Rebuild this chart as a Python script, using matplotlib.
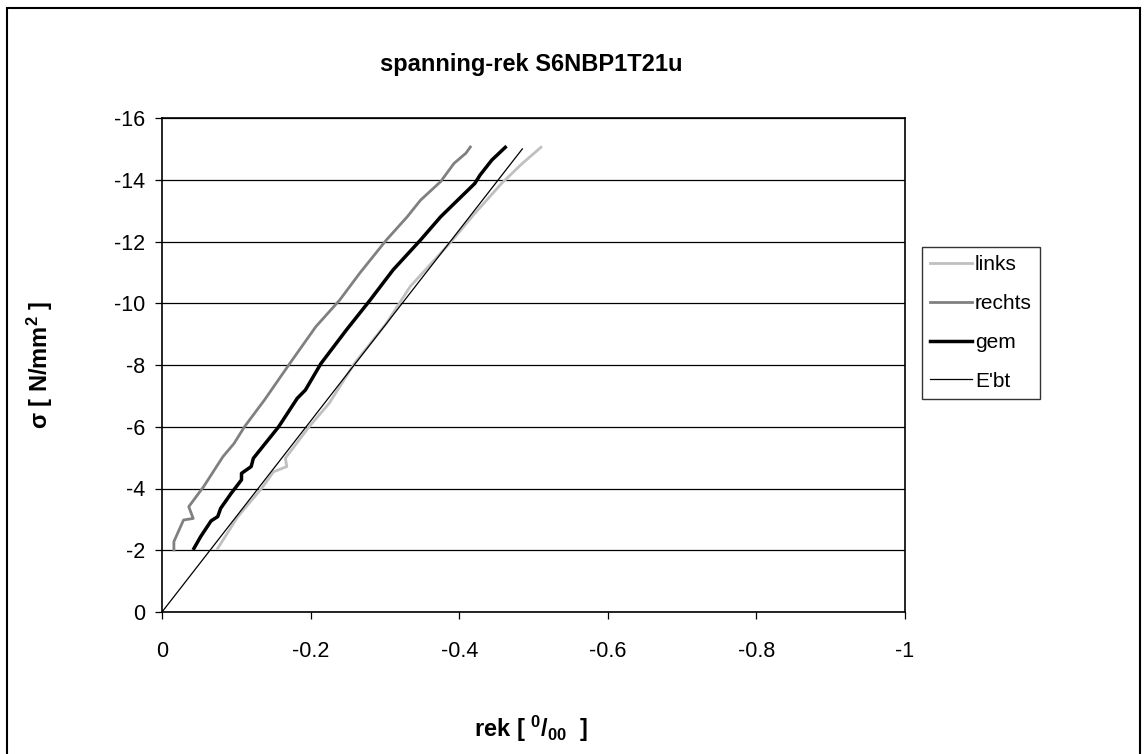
import numpy as np
import matplotlib
matplotlib.use('Agg')
import matplotlib.pyplot as plt
from matplotlib.patches import Rectangle

plt.rcParams['font.family'] = ['Liberation Sans', 'DejaVu Sans']
plt.rcParams['axes.unicode_minus'] = False
plt.rcParams['mathtext.fontset'] = 'custom'
plt.rcParams['mathtext.rm'] = 'Liberation Sans'
plt.rcParams['mathtext.bf'] = 'Liberation Sans:bold'

# data (strain in promille, stress in N/mm2)
links_x = [-0.075, -0.102, -0.134, -0.150, -0.168, -0.166, -0.198, -0.225, -0.259,
           -0.302, -0.334, -0.389, -0.421, -0.457, -0.485, -0.510]
links_y = [-2.06, -3.09, -4.00, -4.54, -4.71, -4.98, -6.00, -6.76, -8.05,
           -9.35, -10.54, -11.99, -12.91, -13.88, -14.53, -15.05]

rechts_x = [-0.016, -0.016, -0.029, -0.042, -0.036, -0.056, -0.082, -0.097, -0.111,
            -0.138, -0.172, -0.207, -0.239, -0.266, -0.302, -0.330, -0.348, -0.375,
            -0.393, -0.409, -0.415]
rechts_y = [-2.01, -2.28, -2.98, -3.03, -3.41, -4.06, -5.03, -5.46, -6.00,
            -6.87, -8.05, -9.24, -10.10, -10.97, -12.05, -12.80, -13.34, -13.94,
            -14.53, -14.86, -15.06]

gem_x = [-0.043, -0.052, -0.066, -0.075, -0.079, -0.093, -0.107, -0.107, -0.120,
         -0.123, -0.157, -0.182, -0.193, -0.214, -0.248, -0.280, -0.311, -0.348,
         -0.375, -0.398, -0.421, -0.428, -0.444, -0.462]
gem_y = [-2.06, -2.44, -2.95, -3.09, -3.36, -3.84, -4.28, -4.49, -4.71,
         -4.98, -6.00, -6.92, -7.19, -8.05, -9.13, -10.10, -11.08, -12.05,
         -12.80, -13.34, -13.88, -14.15, -14.64, -15.05]

ebt_x = [0, -0.485]
ebt_y = [0, -15]

xticks = [0, -0.2, -0.4, -0.6, -0.8, -1]
xticklabels = ['0', '-0.2', '-0.4', '-0.6', '-0.8', '-1']
yticks = [0, -2, -4, -6, -8, -10, -12, -14, -16]

fig = plt.figure(figsize=(11.45, 7.54), dpi=100)
ax = fig.add_axes([162/1145, 1 - 612/754, (905 - 162)/1145, (612 - 118)/754])

ax.plot(links_x, links_y, color='#c0c0c0', lw=2.0, label='links')
ax.plot(rechts_x, rechts_y, color='#808080', lw=2.0, label='rechts')
ax.plot(gem_x, gem_y, color='black', lw=2.5, label='gem')
ax.plot(ebt_x, ebt_y, color='black', lw=0.9, label="E'bt")

ax.set_xlim(0, -1)
ax.set_ylim(0, -16)
ax.set_xticks(xticks)
ax.set_xticklabels(xticklabels)
ax.set_yticks(yticks)
ax.set_yticklabels([str(v) for v in yticks])
ax.yaxis.grid(True, color='black', lw=0.9)
ax.set_axisbelow(True)
ax.tick_params(labelsize=15.5, length=5, width=0.9, color='black')
ax.tick_params(axis='x', pad=16)
ax.tick_params(axis='y', pad=7)
for s in ax.spines.values():
    s.set_linewidth(1.2)

leg = ax.legend(loc='center left', bbox_to_anchor=(922/1145, 1 - 323/754),
                bbox_transform=fig.transFigure, fontsize=15, frameon=True,
                fancybox=False, edgecolor='black', handlelength=2.0,
                handletextpad=0.15, borderpad=0.4, labelspacing=0.95,
                borderaxespad=0)
leg.get_frame().set_linewidth(1.0)

fig.text(531/1145, 1 - 65/754, 'spanning-rek S6NBP1T21u', ha='center',
         va='center', fontsize=17, fontweight='bold')
fig.text(40/1145, 1 - 365/754, r'σ [ N/mm$\mathbf{^2}$ ]', ha='center',
         va='center', rotation=90, fontsize=17, fontweight='bold')
fig.text(531/1145, 1 - 729/754, r'rek [ $\mathbf{^0/_{00}}$  ]', ha='center',
         va='center', fontsize=17, fontweight='bold')

fig.patches.append(Rectangle((7/1145, -0.01), 1133/1145, 1.0 - 8/754 + 0.01,
                             transform=fig.transFigure, fill=False,
                             edgecolor='black', lw=1.5))

fig.savefig('out.png', dpi=100)
